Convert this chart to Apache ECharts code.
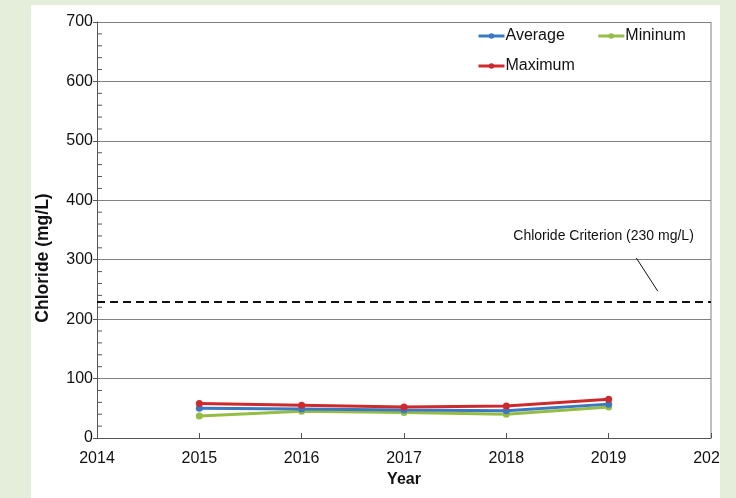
<!DOCTYPE html>
<html>
<head>
<meta charset="utf-8">
<script src="https://cdn.jsdelivr.net/npm/echarts@6/dist/echarts.min.js"></script>
<style>
  html, body { margin: 0; padding: 0; }
  body { width: 736px; height: 498px; background: #e5eddb; position: relative; overflow: hidden; }
  #panel { position: absolute; left: 31px; top: 5px; width: 689px; height: 493px; background: #ffffff; }
  #chart { width: 689px; height: 493px; }
</style>
</head>
<body>
<div id="panel"><div id="chart"></div></div>
<script>
// Annual chloride summary (mg/L)
const years = [2015, 2016, 2017, 2018, 2019];
const averageValues = [50, 49, 47, 46, 57];
const minimumValues = [37, 45, 43, 40, 52];
const maximumValues = [58, 55, 52, 54, 65];
const criterionValue = 230;
const criterionLabel = 'Chloride Criterion (230 mg/L)';
const yTitle = 'Chloride (mg/L)';
const yTicks = [0, 100, 200, 300, 400, 500, 600, 700];
const xTicks = [2014, 2015, 2016, 2017, 2018, 2019, 2020];

const FONT = 'Liberation Sans, Arial, sans-serif';
const chart = echarts.init(document.getElementById('chart'), null, { renderer: 'canvas' });

function pairs(values) {
  return years.map((y, i) => [y, values[i]]);
}

function lineSeries(name, values, color, z) {
  return {
    name: name,
    type: 'line',
    data: pairs(values),
    symbol: 'circle',
    symbolSize: 7,
    z: z,
    lineStyle: { color: color, width: 3 },
    itemStyle: { color: color },
    emphasis: { disabled: true }
  };
}

const series = [
  lineSeries('Average', averageValues, '#3b78c2', 3),
  lineSeries('Mininum', minimumValues, '#95bd46', 2),
  lineSeries('Maximum', maximumValues, '#cc2a2d', 4)
];

// criterion reference line
series[0].markLine = {
  silent: true,
  symbol: ['none', 'none'],
  label: { show: false },
  lineStyle: { color: '#111', type: [8, 5], width: 2 },
  data: [{ yAxis: criterionValue }]
};

const legendCommon = {
  itemWidth: 26,
  itemHeight: 7,
  itemGap: 32,
  lineStyle: { width: 3 },
  textStyle: { fontFamily: FONT, fontSize: 16, color: '#111', padding: [0, 0, 0, -4] },
  selectedMode: false
};

chart.setOption({
  animation: false,
  grid: { left: 66, right: 9, top: 17, bottom: 60, outerBoundsMode: 'none', containLabel: false },
  legend: [
    Object.assign({ data: ['Average', 'Mininum'], left: 441, top: 18 }, legendCommon),
    Object.assign({ data: ['Maximum'], left: 441, top: 48 }, legendCommon)
  ],
  xAxis: {
    type: 'value',
    min: xTicks[0],
    max: xTicks[xTicks.length - 1],
    interval: 1,
    name: 'Year',
    nameLocation: 'middle',
    nameGap: 34,
    nameTextStyle: { fontFamily: FONT, fontSize: 16, fontWeight: 'bold', color: '#111' },
    axisLine: { show: true, lineStyle: { color: '#555', width: 1 } },
    axisTick: { show: true, inside: true, length: 5, lineStyle: { color: '#555' } },
    axisLabel: {
      fontFamily: FONT, fontSize: 16, color: '#111', margin: 13,
      formatter: v => String(v)
    },
    splitLine: { show: false }
  },
  yAxis: {
    type: 'value',
    min: yTicks[0],
    max: yTicks[yTicks.length - 1],
    interval: 100,
    axisLine: { show: true, lineStyle: { color: '#555', width: 1 } },
    axisTick: { show: true, length: 4, lineStyle: { color: '#555' } },
    axisLabel: { fontFamily: FONT, fontSize: 16, color: '#111', margin: 4 },
    splitLine: { show: true, lineStyle: { color: '#808080', width: 1 } }
  },
  series: series
});

const toPx = v => chart.convertToPixel({ xAxisIndex: 0, yAxisIndex: 0 }, v);
const p0 = toPx([xTicks[0], yTicks[0]]);
const p1 = toPx([xTicks[xTicks.length - 1], yTicks[yTicks.length - 1]]);
const textPos = toPx([2018.95, 340]);
const leadA = toPx([2019.27, 303]);
const leadB = toPx([2019.48, 247]);

// minor ticks drawn on the plot side of the value axis
const minorTicks = [];
for (let v = yTicks[0]; v < yTicks[yTicks.length - 1]; v += 20) {
  if (v % 100 === 0) continue;
  const py = chart.convertToPixel({ yAxisIndex: 0 }, v);
  minorTicks.push({
    type: 'line',
    shape: { x1: p0[0], y1: py, x2: p0[0] + 5, y2: py },
    style: { stroke: '#555', lineWidth: 1 }
  });
}

chart.setOption({
  graphic: [
    {
      type: 'line', silent: true,
      shape: { x1: p1[0], y1: p1[1], x2: p1[0], y2: p0[1] },
      style: { stroke: '#808080', lineWidth: 1 }
    },
    {
      type: 'text', silent: true,
      x: textPos[0], y: textPos[1],
      style: {
        text: criterionLabel, fill: '#111', font: '14px ' + FONT,
        align: 'center', verticalAlign: 'middle'
      }
    },
    {
      type: 'line', silent: true,
      shape: { x1: leadA[0], y1: leadA[1], x2: leadB[0], y2: leadB[1] },
      style: { stroke: '#111', lineWidth: 1 }
    },
    { type: 'group', silent: true, children: minorTicks },
    {
      // value axis title, rotated
      type: 'text', silent: true,
      x: 12, y: 253, rotation: Math.PI / 2,
      style: {
        text: yTitle, fill: '#111', font: 'bold 17.5px ' + FONT,
        align: 'center', verticalAlign: 'middle'
      }
    }
  ]
});
</script>
</body>
</html>
